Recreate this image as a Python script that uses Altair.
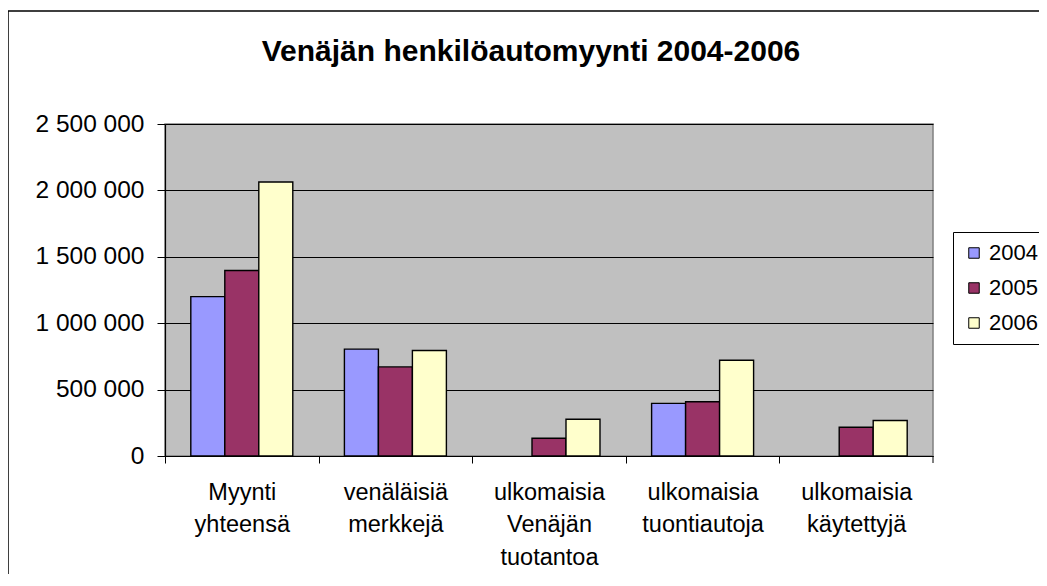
import altair as alt
import pandas as pd

title_text = "Venäjän henkilöautomyynti 2004-2006"
categories = [
    "Myynti\nyhteensä",
    "venäläisiä\nmerkkejä",
    "ulkomaisia\nVenäjän\ntuotantoa",
    "ulkomaisia\ntuontiautoja",
    "ulkomaisia\nkäytettyjä",
]
years = ["2004", "2005", "2006"]
values_2004 = [1200000, 805000, None, 396000, None]
values_2005 = [1397000, 671000, 134000, 408000, 217000]
values_2006 = [2063000, 794000, 277000, 721000, 267000]
colors = ["#9999FF", "#993366", "#FFFFCC"]
y_ticks = [0, 500000, 1000000, 1500000, 2000000, 2500000]

rows = []
for year, vals in zip(years, [values_2004, values_2005, values_2006]):
    for cat, v in zip(categories, vals):
        rows.append({"kategoria": cat, "vuosi": year, "myynti": v})
df = pd.DataFrame(rows)

FONT = "Liberation Sans"
W, H = 768, 332
step = W / len(categories)

bars = alt.Chart(df).mark_bar(stroke="black", strokeWidth=1.4).encode(
    x=alt.X(
        "kategoria:N",
        sort=categories,
        scale=alt.Scale(paddingInner=0.336, paddingOuter=0.168),
        axis=alt.Axis(
            title=None,
            labelAngle=0,
            labelFont=FONT,
            labelFontSize=23.5,
            labelColor="black",
            labelExpr="split(datum.label, '\\n')",
            labelBaseline="top",
            labelLineHeight=32.5,
            labelPadding=17,
            tickOffset=-step / 2,
            labelOffset=step / 2,
            tickColor="black",
            tickSize=7,
            domainColor="black",
            domainWidth=1.2,
        ),
    ),
    xOffset=alt.XOffset("vuosi:N", scale=alt.Scale(domain=years, paddingInner=0, paddingOuter=0)),
    y=alt.Y(
        "myynti:Q",
        scale=alt.Scale(domain=[0, 2500000], nice=False),
        axis=alt.Axis(
            title=None,
            values=y_ticks,
            labelExpr="replace(format(datum.value, ','), regexp(',', 'g'), ' ')",
            labelFont=FONT,
            labelFontSize=24.5,
            labelColor="black",
            labelPadding=13,
            tickColor="black",
            tickSize=8,
            domainColor="black",
            domainWidth=1.2,
            grid=True,
            gridColor="black",
            gridWidth=1,
        ),
    ),
    color=alt.Color(
        "vuosi:N",
        scale=alt.Scale(domain=years, range=colors),
        legend=alt.Legend(
            title=None,
            orient="none",
            legendX=788,
            legendY=108,
            padding=10,
            rowPadding=13,
            fillColor="white",
            strokeColor="black",
            symbolType="square",
            symbolSize=110,
            symbolStrokeColor="black",
            symbolStrokeWidth=1,
            symbolOpacity=1,
            labelFont=FONT,
            labelFontSize=22,
            labelColor="black",
            labelOffset=4,
        ),
    ),
)

frame_df = pd.DataFrame({"k": [0]})
border = alt.Chart(frame_df).mark_rect(
    fillOpacity=0, stroke="black", strokeWidth=1.5
).encode(
    x=alt.value(-157), x2=alt.value(900), y=alt.value(-113), y2=alt.value(500)
)

title_df = pd.DataFrame({"t": [title_text]})
title = alt.Chart(title_df).mark_text(
    font=FONT, fontSize=30, fontWeight="bold", color="black",
    align="center", baseline="alphabetic",
).encode(text="t:N", x=alt.value(366), y=alt.value(-63))

end_tick = alt.Chart(frame_df).mark_rule(color="black", strokeWidth=1).encode(
    x=alt.value(W), y=alt.value(H), y2=alt.value(H + 7)
)

chart = alt.layer(border, bars, end_tick, title).properties(
    width=W,
    height=H,
    autosize=alt.AutoSizeParams(type="none"),
    padding={"left": 157, "top": 116, "right": 106, "bottom": 118},
).configure_view(fill="#C0C0C0", stroke="#808080", strokeWidth=1.5)

chart.save("out.html", embed_options={"renderer": "svg", "actions": False})
